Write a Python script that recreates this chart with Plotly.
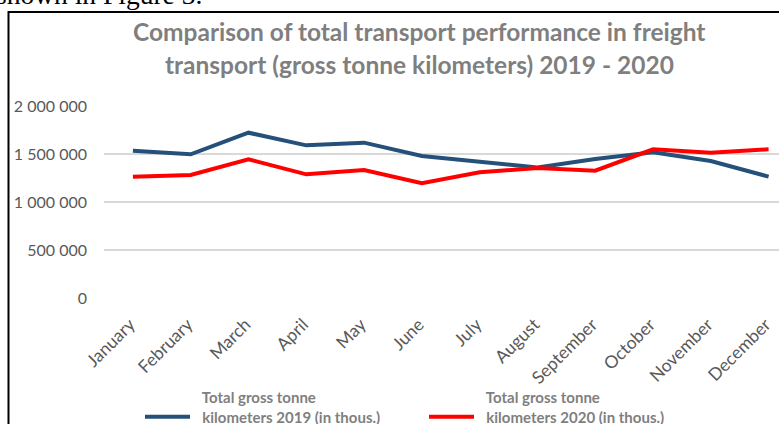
import plotly.graph_objects as go

months = ["January", "February", "March", "April", "May", "June", "July",
          "August", "September", "October", "November", "December"]
gtk_2019 = [1534000, 1497000, 1722000, 1590000, 1618000, 1479000, 1420000,
            1360000, 1448000, 1518000, 1427000, 1264000]
gtk_2020 = [1264000, 1281000, 1445000, 1288000, 1333000, 1195000, 1309000,
            1355000, 1326000, 1549000, 1514000, 1549000]
name_2019 = "<b>\u00a0\u00a0Total gross tonne<br>\u00a0\u00a0kilometers 2019 (in thous.)</b>"
name_2020 = "<b>\u00a0\u00a0Total gross tonne<br>\u00a0\u00a0kilometers 2020 (in thous.)</b>"
title_lines = ["Comparison of total transport performance in freight",
               "transport (gross tonne kilometers) 2019 - 2020"]
y_ticks = [0, 500000, 1000000, 1500000, 2000000]

W, H = 779, 424
L, R, T, B = 104, 779, 106, 298
def px(x):
    return (x - L) / (R - L)
def py(y):
    return (B - y) / (B - T)

fig = go.Figure()
fig.add_trace(go.Scatter(x=months, y=gtk_2019, mode="lines", name=name_2019,
                         line=dict(color="#24507A", width=4)))
fig.add_trace(go.Scatter(x=months, y=gtk_2020, mode="lines", name=name_2020,
                         line=dict(color="#FF0000", width=4)))

font = "Lato, 'Open Sans', sans-serif"
fig.update_layout(
    width=W, height=H,
    margin=dict(l=L, r=W - R, t=T, b=H - B, pad=0, autoexpand=False),
    paper_bgcolor="white", plot_bgcolor="white",
    separators=". ",
    showlegend=True,
    legend=dict(orientation="h", x=px(140), xanchor="left", y=py(381), yanchor="top",
                font=dict(family=font, size=15, color="#7F7F7F"),
                valign="bottom", itemwidth=45, entrywidth=224, entrywidthmode="pixels",
                bgcolor="rgba(0,0,0,0)", tracegroupgap=0),
    xaxis=dict(range=[-0.5, 11.18], showgrid=False, zeroline=False, showline=False,
               automargin=False, ticklabelstandoff=12, ticklabelshift=-3,
               tickangle=-45, ticks="", tickfont=dict(family=font, size=17.5, color="#595959")),
    yaxis=dict(range=[0, 2000000], tickvals=y_ticks, tickformat=",d", showgrid=True,
               gridcolor="#D9D9D9", gridwidth=1.5, zeroline=False, showline=False,
               automargin=False, ticks="", ticklabelstandoff=16,
               tickfont=dict(family=font, size=16, color="#595959")),
    shapes=[dict(type="rect", xref="paper", yref="paper", x0=px(8.5), x1=px(900),
                 y0=py(600), y1=py(12), line=dict(color="black", width=2), layer="above")],
)

for txt, yc in zip(title_lines, [32, 65]):
    fig.add_annotation(text="<b>%s</b>" % txt, xref="paper", yref="paper",
                       x=px(419), y=py(yc), xanchor="center", yanchor="middle",
                       showarrow=False, font=dict(family=font, size=24.5, color="#7F7F7F"))

fig.add_annotation(text="shown in Figure 3.", xref="paper", yref="paper",
                   x=px(-6), y=py(12), xanchor="left", yanchor="bottom", showarrow=False,
                   font=dict(family="'Liberation Serif', 'Times New Roman', serif", size=27.5,
                             color="black"))

fig.write_html("out.html", config={"displayModeBar": False},
               post_script="document.body.style.margin='0px';document.body.style.overflow='hidden';")
